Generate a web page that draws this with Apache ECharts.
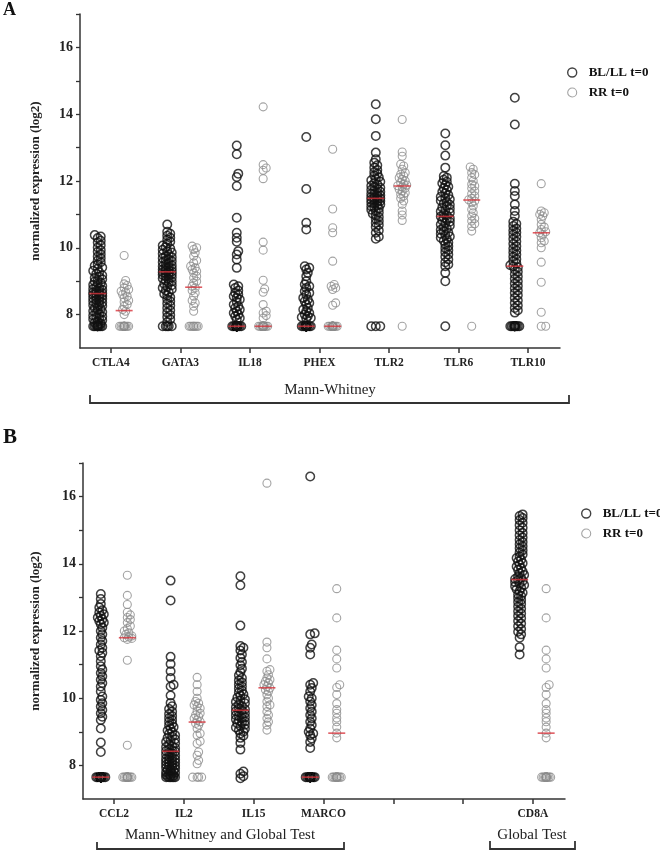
<!DOCTYPE html>
<html>
<head>
<meta charset="utf-8">
<script src="https://cdn.jsdelivr.net/npm/echarts@6/dist/echarts.min.js"></script>
<style>html,body{margin:0;padding:0;background:#fff;}#c{width:660px;height:850px;}</style>
</head>
<body>
<div id="c"></div>
<script>
// ---------- categories ----------
const categoriesA = ['CTLA4','GATA3','IL18','PHEX','TLR2','TLR6','TLR10'];
const categoriesB = ['CCL2','IL2','IL15','MARCO','','','CD8A'];
const yLabelTicks = [8,10,12,14,16];
const seriesNames = ['BL/LL t=0','RR t=0'];

// ---------- panel A values (normalized expression, log2) ----------
const ctla4_bl = [10.38,10.34,10.29,10.21,10.16,10.08,10.01,9.93,9.88,9.81,9.74,9.69,9.62,9.57,9.51,9.46,9.41,9.37,9.31,9.27,9.22,9.18,9.13,9.1,9.06,9.03,8.99,8.95,8.93,8.89,8.86,8.83,8.79,8.77,8.74,8.71,8.69,8.66,8.64,8.63,8.61,8.59,8.56,8.54,8.51,8.49,8.47,8.44,8.41,8.39,8.36,8.34,8.31,8.28,8.26,8.23,8.2,8.17,8.14,8.11,8.08,8.04,8.01,7.97,7.94,7.92,7.89,7.86,7.83,7.79,7.76,7.73,7.7,7.65,7.65,7.65,7.65,7.65,7.65,7.65,7.65,7.65,7.65];
const ctla4_rr = [9.77,9.02,8.92,8.87,8.8,8.75,8.7,8.67,8.6,8.55,8.5,8.42,8.38,8.3,8.25,8.15,8.1,8.0,7.65,7.65,7.65,7.65,7.65,7.65,7.65,7.65,7.65,7.65,7.65,7.65];
const gata3_bl = [10.7,10.48,10.42,10.36,10.3,10.24,10.18,10.12,10.07,10.02,9.98,9.94,9.9,9.86,9.82,9.79,9.75,9.72,9.69,9.66,9.63,9.6,9.57,9.54,9.51,9.48,9.45,9.43,9.4,9.38,9.35,9.33,9.31,9.29,9.27,9.25,9.23,9.21,9.19,9.16,9.14,9.11,9.08,9.05,9.02,8.99,8.95,8.92,8.88,8.84,8.8,8.76,8.72,8.67,8.62,8.57,8.52,8.46,8.4,8.33,8.27,8.2,8.13,8.06,7.99,7.93,7.86,7.78,7.65,7.65,7.65,7.65,7.65];
const gata3_rr = [10.05,10.0,9.95,9.85,9.75,9.62,9.55,9.45,9.4,9.35,9.3,9.25,9.15,9.1,9.0,8.95,8.85,8.8,8.72,8.65,8.55,8.42,8.35,8.25,8.1,7.65,7.65,7.65,7.65,7.65,7.65,7.65,7.65];
const il18_bl = [13.06,12.8,12.22,12.12,11.85,10.9,10.45,10.3,10.18,9.9,9.8,9.65,9.4,8.9,8.85,8.8,8.72,8.65,8.6,8.55,8.5,8.45,8.38,8.3,8.25,8.2,8.15,8.1,8.05,8.0,7.95,7.9,7.85,7.65,7.65,7.65,7.65,7.65,7.65,7.65,7.65,7.65,7.65,7.65,7.65,7.65,7.65,7.65,7.65,7.65,7.65,7.65,7.65,7.65,7.65,7.65,7.65,7.65,7.65,7.65,7.65,7.65,7.65,7.65,7.65,7.65,7.65,7.65,7.65,7.65,7.65];
const il18_rr = [14.22,12.49,12.39,12.32,12.07,10.17,9.93,9.03,8.77,8.67,8.3,8.1,8.05,7.97,7.9,7.65,7.65,7.65,7.65,7.65,7.65,7.65,7.65,7.65,7.65,7.65,7.65,7.65,7.65,7.65,7.65,7.65,7.65,7.65,7.65];
const phex_bl = [13.32,11.76,10.75,10.55,9.45,9.4,9.35,9.25,9.15,9.0,8.9,8.85,8.8,8.7,8.65,8.6,8.5,8.45,8.4,8.35,8.3,8.2,8.15,8.1,8.05,8.0,7.95,7.92,7.9,7.88,7.65,7.65,7.65,7.65,7.65,7.65,7.65,7.65,7.65,7.65,7.65,7.65,7.65,7.65,7.65,7.65,7.65,7.65,7.65,7.65,7.65,7.65,7.65,7.65,7.65,7.65,7.65,7.65,7.65,7.65,7.65,7.65,7.65,7.65,7.65,7.65,7.65,7.65,7.65,7.65];
const phex_rr = [12.95,11.16,10.6,10.45,9.6,8.9,8.85,8.8,8.75,8.35,8.28,7.65,7.65,7.65,7.65,7.65,7.65,7.65,7.65,7.65,7.65,7.65,7.65,7.65,7.65,7.65,7.65,7.65,7.65,7.65,7.65];
const tlr2_bl = [14.3,13.85,13.35,12.85,12.65,12.55,12.47,12.4,12.33,12.27,12.22,12.16,12.11,12.06,12.02,11.98,11.94,11.9,11.86,11.83,11.8,11.77,11.74,11.71,11.68,11.65,11.62,11.6,11.57,11.55,11.52,11.5,11.48,11.46,11.44,11.42,11.4,11.37,11.35,11.32,11.3,11.27,11.24,11.21,11.18,11.14,11.1,11.06,11.02,10.97,10.92,10.86,10.8,10.74,10.68,10.62,10.52,10.45,10.33,10.27,7.65,7.65,7.65];
const tlr2_rr = [13.84,12.87,12.74,12.5,12.45,12.35,12.25,12.2,12.15,12.1,12.05,12.0,11.95,11.9,11.88,11.86,11.82,11.79,11.75,11.7,11.65,11.6,11.55,11.48,11.4,11.3,11.1,10.98,10.82,7.65];
const tlr6_bl = [13.42,13.07,12.76,12.4,12.15,12.1,12.04,11.98,11.93,11.88,11.83,11.78,11.73,11.68,11.63,11.58,11.53,11.49,11.45,11.41,11.37,11.33,11.29,11.25,11.21,11.17,11.13,11.09,11.05,11.01,10.97,10.94,10.91,10.88,10.85,10.82,10.78,10.74,10.7,10.66,10.62,10.58,10.54,10.5,10.46,10.42,10.38,10.34,10.3,10.26,10.21,10.16,10.11,10.05,9.99,9.93,9.87,9.8,9.73,9.65,9.57,9.5,9.45,9.25,9.0,7.65];
const tlr6_rr = [12.42,12.35,12.25,12.19,12.1,12.0,11.9,11.85,11.78,11.7,11.62,11.55,11.48,11.44,11.4,11.35,11.25,11.15,11.05,10.95,10.88,10.8,10.72,10.64,10.5,7.65];
const tlr10_bl = [14.49,13.69,11.92,11.7,11.55,11.3,11.1,10.95,10.78,10.72,10.65,10.58,10.52,10.46,10.4,10.33,10.26,10.19,10.12,10.05,9.98,9.92,9.86,9.8,9.73,9.66,9.6,9.54,9.48,9.45,9.41,9.35,9.28,9.21,9.14,9.07,9.0,8.93,8.86,8.79,8.72,8.65,8.58,8.5,8.42,8.35,8.27,8.2,8.13,8.06,7.65,7.65,7.65,7.65,7.65,7.65,7.65,7.65,7.65,7.65,7.65,7.65];
const tlr10_rr = [11.92,11.1,11.05,11.0,10.95,10.85,10.7,10.62,10.55,10.48,10.45,10.4,10.3,10.2,10.15,10.0,9.57,8.97,8.07,7.65,7.65];

// ---------- panel B values ----------
const ccl2_bl = [13.1,12.95,12.8,12.7,12.62,12.55,12.5,12.45,12.4,12.35,12.3,12.25,12.2,12.1,12.0,11.9,11.8,11.7,11.6,11.5,11.42,11.35,11.25,11.1,10.95,10.85,10.75,10.65,10.55,10.45,10.35,10.2,10.05,9.95,9.85,9.75,9.65,9.55,9.45,9.35,9.1,8.68,8.4,7.65,7.65,7.65,7.65,7.65,7.65,7.65,7.65,7.65,7.65,7.65,7.65,7.65,7.65,7.65,7.65,7.65,7.65,7.65,7.65,7.65,7.65,7.65,7.65,7.65,7.65,7.65,7.65,7.65,7.65,7.65,7.65,7.65,7.65,7.65,7.65,7.65,7.65,7.65,7.65,7.65,7.65,7.65,7.65,7.65];
const ccl2_rr = [13.66,13.06,12.79,12.56,12.48,12.4,12.34,12.25,12.15,12.07,12.0,11.95,11.9,11.85,11.82,11.8,11.78,11.75,11.13,8.6,7.65,7.65,7.65,7.65,7.65,7.65,7.65,7.65,7.65,7.65,7.65,7.65];
const il2_bl = [13.5,12.91,11.23,11.02,10.8,10.6,10.4,10.35,10.08,9.86,9.76,9.68,9.6,9.53,9.47,9.41,9.35,9.3,9.24,9.19,9.14,9.09,9.04,8.99,8.94,8.9,8.86,8.82,8.78,8.74,8.7,8.66,8.62,8.58,8.55,8.52,8.49,8.46,8.43,8.41,8.38,8.35,8.32,8.29,8.26,8.23,8.2,8.18,8.17,8.14,8.11,8.09,8.08,8.05,8.02,7.99,7.98,7.96,7.93,7.9,7.88,7.87,7.84,7.81,7.8,7.78,7.75,7.74,7.72,7.7,7.69,7.66,7.65,7.65,7.65,7.65,7.65,7.65];
const il2_rr = [10.62,10.4,10.2,10.0,9.9,9.85,9.8,9.75,9.7,9.62,9.55,9.5,9.45,9.4,9.35,9.3,9.25,9.2,9.1,8.95,8.9,8.72,8.65,8.4,8.3,8.15,8.05,7.65,7.65,7.65,7.65];
const il15_bl = [13.63,13.36,12.16,11.55,11.5,11.42,11.3,11.2,11.08,10.98,10.88,10.78,10.68,10.6,10.53,10.47,10.41,10.35,10.29,10.23,10.17,10.12,10.07,10.02,9.97,9.93,9.89,9.85,9.81,9.77,9.73,9.7,9.67,9.64,9.61,9.58,9.55,9.52,9.49,9.46,9.43,9.4,9.37,9.34,9.31,9.28,9.25,9.21,9.17,9.13,9.09,9.05,9.0,8.95,8.88,8.82,8.67,8.47,7.82,7.75,7.68,7.62];
const il15_rr = [16.4,11.67,11.5,11.17,10.85,10.8,10.7,10.6,10.55,10.5,10.45,10.4,10.35,10.3,10.25,10.2,10.1,10.0,9.9,9.8,9.75,9.6,9.5,9.4,9.3,9.2,9.05];
const marco_bl = [16.6,11.93,11.9,11.6,11.5,11.3,10.45,10.4,10.3,10.2,10.05,10.0,9.9,9.8,9.7,9.6,9.5,9.4,9.3,9.2,9.1,9.0,8.95,8.9,8.8,8.7,8.52,7.65,7.65,7.65,7.65,7.65,7.65,7.65,7.65,7.65,7.65,7.65,7.65,7.65,7.65,7.65,7.65,7.65,7.65,7.65,7.65,7.65,7.65,7.65,7.65,7.65,7.65,7.65,7.65,7.65,7.65];
const marco_rr = [13.26,12.39,11.43,11.17,10.9,10.4,10.32,10.11,9.84,9.66,9.55,9.41,9.3,9.14,8.96,8.82,7.65,7.65,7.65,7.65,7.65,7.65,7.65,7.65,7.65,7.65,7.65,7.65];
const cd8a_bl = [15.47,15.42,15.36,15.3,15.22,15.15,15.07,15.0,14.92,14.85,14.78,14.71,14.65,14.58,14.52,14.46,14.4,14.34,14.28,14.22,14.17,14.12,14.07,14.02,13.97,13.92,13.87,13.82,13.77,13.72,13.67,13.62,13.58,13.55,13.52,13.49,13.45,13.41,13.37,13.33,13.29,13.24,13.19,13.14,13.09,13.04,12.98,12.92,12.86,12.8,12.73,12.66,12.59,12.52,12.45,12.38,12.3,12.22,12.14,12.06,11.98,11.9,11.8,11.52,11.3];
const cd8a_rr = [13.26,12.39,11.43,11.17,10.9,10.4,10.32,10.11,9.84,9.66,9.55,9.41,9.3,9.14,8.96,8.82,7.65,7.65,7.65,7.65,7.65,7.65,7.65,7.65,7.65,7.65,7.65,7.65];

// ---------- medians ----------
const medianBL_A = [8.63,9.28,7.65,7.65,11.48,10.94,9.45];
const medianRR_A = [8.12,8.82,7.65,7.65,11.85,11.43,10.45];
const medianBL_B = [7.65,8.42,9.64,7.65,null,null,13.53];
const medianRR_B = [11.8,9.29,10.31,8.96,null,null,8.96];

const groupsA = [[ctla4_bl,ctla4_rr],[gata3_bl,gata3_rr],[il18_bl,il18_rr],[phex_bl,phex_rr],[tlr2_bl,tlr2_rr],[tlr6_bl,tlr6_rr],[tlr10_bl,tlr10_rr]];
const groupsB = [[ccl2_bl,ccl2_rr],[il2_bl,il2_rr],[il15_bl,il15_rr],[marco_bl,marco_rr],[[],[]],[[],[]],[cd8a_bl,cd8a_rr]];

// ---------- layout ----------
const XMIN = -0.445, XMAX = 6.46, YMIN = 7, YMAX = 17;
const gridA = {left:80, top:14, width:480, height:334};
const gridB = {left:83, top:463, width:482, height:336};
const SIDE = 0.19;
const FONT = '"Liberation Serif","DejaVu Serif",serif';

// beeswarm: horizontal spread computed from values so circles do not pile up
function swarm(values, center, pxX, pxY) {
  const sorted = values.slice().sort((a,b)=>a-b);
  const placed = [], out = [];
  const minD = 3.4, step = 1.5, maxOff = 4.5;
  const cands = [0];
  for (let k=1; k*step<=maxOff+1e-9; k++) cands.push(k*step, -k*step);
  for (const v of sorted) {
    const y = v*pxY;
    let best = null;
    for (const dx of cands) {
      let ok = true;
      for (const p of placed) {
        if (Math.abs(p.y-y) < minD && Math.hypot(p.x-dx,p.y-y) < minD) { ok=false; break; }
      }
      if (ok) { best = dx; break; }
    }
    if (best === null) {
      let bestD = -1;
      for (const dx of cands) {
        let md = Infinity;
        for (const p of placed) { const d = Math.hypot(p.x-dx,p.y-y); if (d<md) md=d; }
        if (md > bestD) { bestD = md; best = dx; }
      }
    }
    placed.push({x:best,y:y});
    out.push([center + best/pxX, v]);
  }
  return out;
}

function buildPanel(groups, grid) {
  const pxX = grid.width/(XMAX-XMIN), pxY = grid.height/(YMAX-YMIN);
  const bl = [], rr = [];
  groups.forEach((g,i)=>{
    swarm(g[0], i-SIDE, pxX, pxY).forEach(p=>bl.push(p));
    swarm(g[1], i+SIDE, pxX, pxY).forEach(p=>rr.push(p));
  });
  return {bl, rr};
}
const panelA = buildPanel(groupsA, gridA);
const panelB = buildPanel(groupsB, gridB);
function medianPoints(arr, side) {
  const out = [];
  arr.forEach((m,i)=>{ if (m!==null) out.push([i+side, m]); });
  return out;
}

const blStyle = {color:'rgba(0,0,0,0)', borderColor:'#111', borderWidth:1.5};
const rrStyle = {color:'rgba(0,0,0,0)', borderColor:'#8c8c8c', borderWidth:1.1};
const axisColor = '#333';

function xAxis(gridIndex, cats) {
  return {
    type:'value', gridIndex, min:XMIN, max:XMAX,
    axisLine:{show:true, onZero:false, lineStyle:{color:axisColor, width:1.5}},
    axisTick:{show:true, length:5, customValues:[0,1,2,3,4,5,6], lineStyle:{color:axisColor, width:1.5}},
    axisLabel:{customValues:[0,1,2,3,4,5,6], formatter:(v)=>cats[Math.round(v)]||'', fontFamily:FONT, fontWeight:'bold', fontSize:11.5, color:'#222', margin:9},
    splitLine:{show:false}
  };
}
function yAxis(gridIndex, gap) {
  return {
    type:'value', gridIndex, min:YMIN, max:YMAX,
    name:'normalized expression (log2)', nameLocation:'middle', nameGap:gap,
    nameTextStyle:{fontFamily:FONT, fontWeight:'bold', fontSize:13, color:'#222'},
    axisLine:{show:true, onZero:false, lineStyle:{color:axisColor, width:1.5}},
    axisTick:{show:true, length:4, customValues:[8,9,10,11,12,13,14,15,16,17], lineStyle:{color:axisColor, width:1.3}},
    axisLabel:{customValues:yLabelTicks, fontFamily:FONT, fontWeight:'bold', fontSize:14, color:'#222', margin:7},
    splitLine:{show:false}
  };
}
function scatter(name, data, xi, style, size) {
  return {type:'scatter', name, xAxisIndex:xi, yAxisIndex:xi, data, symbol:'circle', symbolSize:size, itemStyle:style, emphasis:{disabled:true}, silent:true, z:2};
}
function medianSeries(data, xi) {
  return {type:'scatter', name:'median', xAxisIndex:xi, yAxisIndex:xi, data, symbol:'rect', symbolSize:[17,1.6], itemStyle:{color:'#d7333b'}, silent:true, z:5};
}
function legend(left, top) {
  return {
    orient:'vertical', left, top, itemWidth:9, itemHeight:9, itemGap:7, icon:'circle',
    selectedMode:false,
    data:[{name:seriesNames[0], itemStyle:{color:'rgba(0,0,0,0)', borderColor:'#111', borderWidth:1.4}},
          {name:seriesNames[1], itemStyle:{color:'rgba(0,0,0,0)', borderColor:'#8c8c8c', borderWidth:1.1}}],
    textStyle:{fontFamily:FONT, fontWeight:'bold', fontSize:13, color:'#111', padding:[0,0,0,7]}
  };
}
function txt(text, x, y, size, weight) {
  return {type:'text', x, y, style:{text, font:(weight||'normal')+' '+size+'px '+FONT, fill:'#222', align:'center', verticalAlign:'middle'}};
}
function bracket(pts) {
  return {type:'polyline', shape:{points:pts}, style:{stroke:'#333', lineWidth:1.8, fill:null}};
}

const chart = echarts.init(document.getElementById('c'), null, {renderer:'canvas'});
chart.setOption({
  animation:false,
  backgroundColor:'#fff',
  grid:[gridA, gridB],
  xAxis:[xAxis(0, categoriesA), xAxis(1, categoriesB)],
  yAxis:[yAxis(0, 38), yAxis(1, 41)],
  legend:[legend(562, 61), legend(576, 502)],
  series:[
    scatter(seriesNames[0], panelA.bl, 0, blStyle, 8.5),
    scatter(seriesNames[1], panelA.rr, 0, rrStyle, 8),
    medianSeries(medianPoints(medianBL_A, -SIDE), 0),
    medianSeries(medianPoints(medianRR_A, SIDE), 0),
    scatter(seriesNames[0], panelB.bl, 1, blStyle, 8.5),
    scatter(seriesNames[1], panelB.rr, 1, rrStyle, 8),
    medianSeries(medianPoints(medianBL_B, -SIDE), 1),
    medianSeries(medianPoints(medianRR_B, SIDE), 1)
  ],
  graphic:[
    {type:'text', left:3, top:1, style:{text:'A', font:'bold 18px '+FONT, fill:'#111'}},
    {type:'text', left:3, top:427, style:{text:'B', font:'bold 21px '+FONT, fill:'#111'}},
    txt('Mann-Whitney', 330, 390, 15),
    bracket([[90,395],[90,403],[569,403],[569,395]]),
    txt('Mann-Whitney and Global Test', 220, 835, 15),
    bracket([[97,842],[97,849],[344,849],[344,842]]),
    txt('Global Test', 532, 835, 15),
    bracket([[490,841],[490,849],[575,849],[575,841]])
  ]
});
</script>
</body>
</html>
